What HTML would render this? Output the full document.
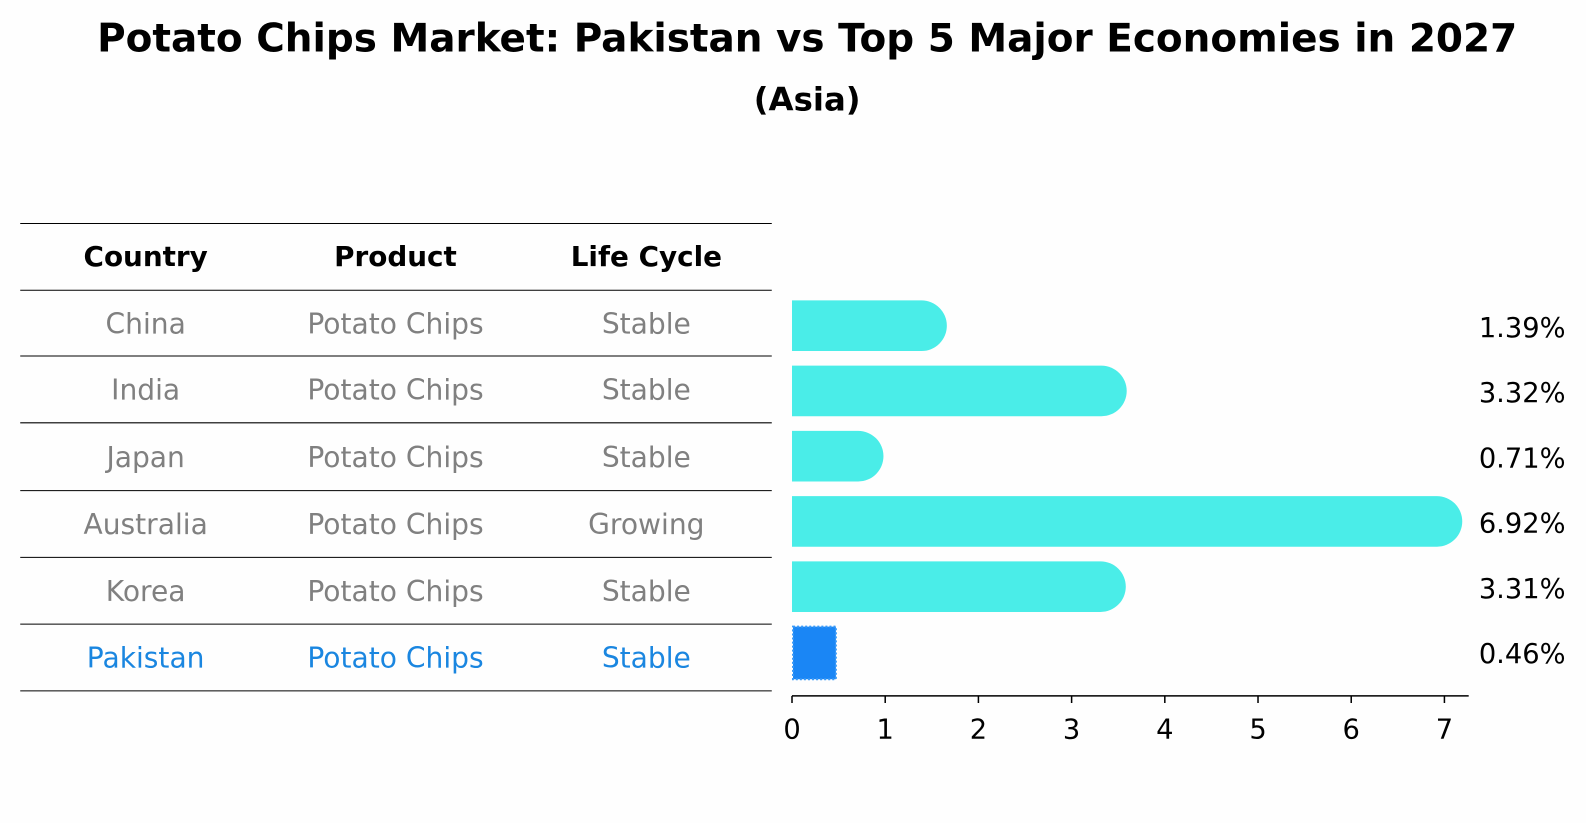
<!DOCTYPE html>
<html><head><meta charset="utf-8"><style>
body{margin:0;background:#fefefe;}
svg{display:block;font-family:"DejaVu Sans","Liberation Sans",sans-serif;}
</style></head><body>
<svg id="chart" width="1586" height="823" viewBox="0 0 1586 823">
<g transform="scale(1.0115)">
<text x="798" y="51" text-anchor="middle" font-size="38.5" font-weight="bold">Potato Chips Market: Pakistan vs Top 5 Major Economies in 2027</text>
<text x="798" y="109" text-anchor="middle" font-size="32" font-weight="bold">(Asia)</text>
<g id="table"></g>
<g id="bars"></g>
<g id="axis"></g>
</g>
</svg>
<script>
const countries=["China","India","Japan","Australia","Korea","Pakistan"];
const products=["Potato Chips","Potato Chips","Potato Chips","Potato Chips","Potato Chips","Potato Chips"];
const lifeCycles=["Stable","Stable","Stable","Growing","Stable","Stable"];
const growth=[1.39,3.32,0.71,6.92,3.31,0.46];
const ticks=[0,1,2,3,4,5,6,7];
const NS="http://www.w3.org/2000/svg";
function mk(tag,attrs,parent){const e=document.createElementNS(NS,tag);for(const k in attrs)e.setAttribute(k,attrs[k]);parent.appendChild(e);return e;}
const x0=783,ux=645/7;
const xs=v=>x0+v*ux;
const rowY=i=>322+i*64.5;
const table=document.getElementById('table'),bars=document.getElementById('bars'),axis=document.getElementById('axis');
const lineYs=[221,287,352,418,485,551,617,683];
lineYs.forEach((y,i)=>{const l=mk('line',{x1:20,x2:763,y1:y,y2:y,stroke:'#000','stroke-width':1},table);

});
const colX=[144,391,639];
["Country","Product","Life Cycle"].forEach((h,i)=>{const t=mk('text',{x:colX[i],y:263,'text-anchor':'middle','font-size':27.5,'font-weight':'bold'},table);t.textContent=h;

});
countries.forEach((c,i)=>{
 const y=(lineYs[i+1]+lineYs[i+2])/2+10;
 const col=c==="Pakistan"?'#1a86e0':'#808080';
 [c,products[i],lifeCycles[i]].forEach((v,j)=>{const t=mk('text',{x:colX[j],y:y,'text-anchor':'middle','font-size':27.8,fill:col},table);t.textContent=v;
 
 });
 const cy=rowY(i),h=50;
 let b;
 if(c==="Pakistan"){
  b=mk('rect',{x:xs(0)+1,y:cy-h/2,width:xs(growth[i])-xs(0),height:h+2,fill:'#1a86f5',stroke:'#3a9af8','stroke-width':2,'stroke-dasharray':'2 2'},bars);
 } else {
  const r=25,xe=xs(growth[i]);
  b=mk('path',{d:`M${x0},${cy-r} H${xe} A${r},${r} 0 0 1 ${xe},${cy+r} H${x0} Z`,fill:'#4aede8'},bars);
 }
 
 
 const t=mk('text',{x:1462,y:cy+11,'font-size':27},bars);t.textContent=growth[i].toFixed(2)+'%';
 
 
});
const al=mk('line',{x1:x0,x2:1452,y1:688,y2:688,stroke:'#000','stroke-width':1.5},axis);


ticks.forEach(v=>{const l=mk('line',{x1:xs(v),x2:xs(v),y1:688,y2:695,stroke:'#000','stroke-width':1.5},axis);


const t=mk('text',{x:xs(v),y:730,'text-anchor':'middle','font-size':27},axis);t.textContent=v;

});
</script>
</body></html>
